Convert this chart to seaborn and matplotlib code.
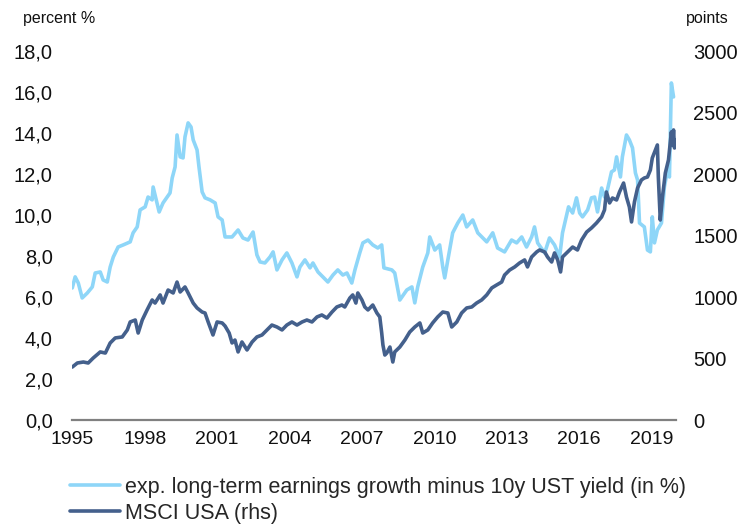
import matplotlib
matplotlib.use("Agg")
import matplotlib.pyplot as plt
import matplotlib.ticker as mticker
from matplotlib.lines import Line2D
import pandas as pd
import seaborn as sns

# Expected long-term earnings growth minus 10y UST yield, percent (left axis)
spread_years = [
    1995.00, 1995.12, 1995.25, 1995.41, 1995.62, 1995.83, 1995.95, 1996.16, 1996.28, 1996.45,
    1996.57, 1996.70, 1996.90, 1997.11, 1997.40, 1997.52, 1997.69, 1997.81, 1998.02, 1998.14,
    1998.31, 1998.35, 1998.48, 1998.60, 1998.76, 1998.93, 1999.05, 1999.14, 1999.26, 1999.34,
    1999.47, 1999.59, 1999.67, 1999.80, 1999.92, 2000.01, 2000.17, 2000.25, 2000.38, 2000.50,
    2000.71, 2000.92, 2001.04, 2001.21, 2001.33, 2001.62, 2001.87, 2002.07, 2002.28, 2002.49,
    2002.65, 2002.78, 2002.98, 2003.19, 2003.32, 2003.48, 2003.69, 2003.89, 2004.10, 2004.31,
    2004.43, 2004.64, 2004.85, 2004.97, 2005.18, 2005.38, 2005.59, 2005.80, 2006.00, 2006.21,
    2006.38, 2006.58, 2006.71, 2006.91, 2007.04, 2007.25, 2007.45, 2007.66, 2007.82, 2007.91,
    2008.24, 2008.36, 2008.57, 2008.86, 2009.07, 2009.19, 2009.31, 2009.52, 2009.73, 2009.81,
    2010.02, 2010.22, 2010.35, 2010.43, 2010.56, 2010.76, 2010.97, 2011.18, 2011.34, 2011.59,
    2011.80, 2012.17, 2012.42, 2012.62, 2012.91, 2013.20, 2013.41, 2013.62, 2013.82, 2014.03,
    2014.15, 2014.28, 2014.57, 2014.77, 2014.98, 2015.19, 2015.31, 2015.56, 2015.73, 2015.89,
    2016.02, 2016.14, 2016.35, 2016.51, 2016.64, 2016.76, 2016.93, 2017.05, 2017.17, 2017.34,
    2017.46, 2017.55, 2017.71, 2017.79, 2017.96, 2018.08, 2018.21, 2018.33, 2018.42, 2018.50,
    2018.70, 2018.83, 2018.95, 2019.03, 2019.12, 2019.24, 2019.41, 2019.53, 2019.66, 2019.74,
    2019.82, 2019.91,
]
spread_values = [
    6.45, 6.99, 6.69, 5.96, 6.20, 6.50, 7.18, 7.23, 6.84, 6.74,
    7.47, 7.96, 8.45, 8.55, 8.70, 9.14, 9.43, 10.26, 10.41, 10.89,
    10.75, 11.38, 10.75, 10.16, 10.60, 10.89, 11.09, 11.82, 12.36, 13.92,
    12.85, 12.80, 13.83, 14.51, 14.31, 13.68, 13.19, 12.36, 11.14, 10.85,
    10.75, 10.60, 9.92, 9.77, 8.94, 8.94, 9.28, 8.89, 8.79, 9.18,
    8.06, 7.72, 7.67, 7.96, 8.21, 7.33, 7.82, 8.16, 7.67, 6.99,
    7.47, 7.82, 7.43, 7.67, 7.23, 6.99, 6.74, 7.08, 7.33, 7.08,
    7.18, 6.69, 7.33, 8.16, 8.65, 8.79, 8.55, 8.40, 8.55, 7.43,
    7.33, 7.18, 5.86, 6.35, 6.50, 5.72, 6.50, 7.47, 8.16, 8.94,
    8.30, 8.55, 7.47, 6.94, 7.82, 9.14, 9.62, 10.01, 9.43, 9.77,
    9.14, 8.70, 9.14, 8.40, 8.21, 8.79, 8.65, 8.94, 8.45, 8.94,
    9.43, 8.65, 8.16, 8.89, 8.55, 7.96, 9.14, 10.41, 10.11, 10.85,
    10.11, 9.92, 10.26, 10.85, 10.89, 10.16, 11.33, 10.89, 11.24, 12.12,
    12.21, 12.85, 11.87, 12.85, 13.92, 13.68, 13.29, 12.07, 11.72, 9.62,
    9.43, 8.30, 8.21, 9.92, 8.65, 9.28, 9.62, 11.38, 12.21, 11.87,
    16.46, 15.78,
]

# MSCI USA index level, points (right axis)
msci_years = [
    1995.00, 1995.21, 1995.46, 1995.66, 1995.87, 1996.16, 1996.37, 1996.57, 1996.78, 1997.07,
    1997.28, 1997.40, 1997.61, 1997.73, 1997.90, 1998.10, 1998.31, 1998.43, 1998.64, 1998.76,
    1998.97, 1999.18, 1999.34, 1999.47, 1999.67, 1999.80, 2000.01, 2000.17, 2000.38, 2000.50,
    2000.63, 2000.83, 2001.00, 2001.21, 2001.33, 2001.50, 2001.62, 2001.74, 2001.87, 2002.03,
    2002.24, 2002.45, 2002.65, 2002.86, 2003.07, 2003.27, 2003.48, 2003.69, 2003.89, 2004.10,
    2004.31, 2004.52, 2004.72, 2004.93, 2005.14, 2005.34, 2005.55, 2005.76, 2005.96, 2006.17,
    2006.29, 2006.50, 2006.62, 2006.75, 2006.83, 2007.00, 2007.12, 2007.25, 2007.45, 2007.62,
    2007.74, 2007.82, 2007.87, 2007.95, 2008.03, 2008.16, 2008.28, 2008.36, 2008.57, 2008.78,
    2008.98, 2009.19, 2009.40, 2009.52, 2009.73, 2009.93, 2010.14, 2010.35, 2010.56, 2010.72,
    2010.93, 2011.13, 2011.34, 2011.55, 2011.75, 2011.96, 2012.17, 2012.38, 2012.58, 2012.79,
    2012.91, 2013.12, 2013.33, 2013.53, 2013.74, 2013.86, 2014.03, 2014.24, 2014.36, 2014.57,
    2014.69, 2014.86, 2014.98, 2015.11, 2015.23, 2015.31, 2015.52, 2015.73, 2015.93, 2016.10,
    2016.31, 2016.51, 2016.72, 2016.93, 2017.05, 2017.13, 2017.26, 2017.38, 2017.55, 2017.67,
    2017.84, 2017.96, 2018.08, 2018.17, 2018.29, 2018.42, 2018.58, 2018.70, 2018.83, 2018.95,
    2019.03, 2019.16, 2019.24, 2019.28, 2019.36, 2019.45, 2019.57, 2019.70, 2019.82, 2019.87,
    2019.91, 2019.95, 2019.99,
]
msci_values = [
    431, 464, 472, 464, 505, 554, 545, 627, 668, 676,
    733, 798, 814, 708, 814, 896, 977, 952, 1018, 952,
    1058, 1034, 1123, 1042, 1083, 1034, 952, 912, 879, 871,
    798, 692, 798, 790, 765, 708, 627, 651, 554, 635,
    570, 635, 676, 692, 733, 773, 757, 733, 773, 798,
    773, 798, 814, 798, 839, 855, 830, 879, 920, 936,
    920, 993, 1018, 952, 1034, 977, 920, 896, 936, 871,
    839, 708, 611, 529, 545, 594, 472, 554, 594, 651,
    716, 757, 790, 708, 733, 790, 839, 879, 871, 757,
    798, 871, 912, 920, 952, 977, 1018, 1075, 1099, 1123,
    1180, 1221, 1246, 1278, 1303, 1246, 1327, 1368, 1384, 1368,
    1327, 1286, 1360, 1303, 1205, 1327, 1368, 1408, 1384, 1465,
    1530, 1563, 1604, 1653, 1710, 1856, 1767, 1807, 1791, 1856,
    1929, 1815, 1734, 1612, 1775, 1889, 1954, 1970, 1978, 2035,
    2133, 2198, 2239, 1978, 1628, 1815, 2011, 2117, 2345, 2239,
    2361, 2214, 2279,
]

year_ticks = [1995, 1998, 2001, 2004, 2007, 2010, 2013, 2016, 2019]
spread_label = "exp. long-term earnings growth minus 10y UST yield (in %)"
msci_label = "MSCI USA (rhs)"

LIGHT = "#8ed6f8"
DARK = "#44608c"
LW = 2.6

sns.set_theme(style="white")
plt.rcParams["font.family"] = ["Liberation Sans", "DejaVu Sans"]

spread_df = pd.DataFrame({"year": spread_years, "value": spread_values})
msci_df = pd.DataFrame({"year": msci_years, "value": msci_values})

fig = plt.figure(figsize=(7.45, 5.25), dpi=100)
ax = fig.add_axes([0.097, 0.2, 0.81, 0.702])
ax2 = ax.twinx()

sns.lineplot(data=spread_df, x="year", y="value", ax=ax, color=LIGHT,
             linewidth=LW, legend=False)
sns.lineplot(data=msci_df, x="year", y="value", ax=ax2, color=DARK,
             linewidth=LW, legend=False)
ax2.set_zorder(ax.get_zorder() + 1)
ax.patch.set_visible(False)

ax.set_xlim(1995, 2020)
ax.set_ylim(0, 18)
ax2.set_ylim(0, 3000)
ax.set_xticks(year_ticks)
ax.set_xticklabels([str(y) for y in year_ticks])
ax.set_yticks(range(0, 19, 2))
ax.yaxis.set_major_formatter(
    mticker.FuncFormatter(lambda v, _: f"{v:.1f}".replace(".", ",")))
ax2.set_yticks(range(0, 3001, 500))

for a in (ax, ax2):
    a.set_xlabel("")
    a.set_ylabel("")
    a.grid(False)
    for side in ("left", "right", "top", "bottom"):
        a.spines[side].set_visible(False)

ax.spines["bottom"].set_visible(True)
ax.spines["bottom"].set_color("#808080")
ax.spines["bottom"].set_linewidth(1.6)

ax.tick_params(axis="y", length=0, pad=14, labelsize=14.5, labelcolor="#111111")
ax.tick_params(axis="x", length=0, pad=8, labelsize=14, labelcolor="#111111")
ax2.tick_params(axis="y", length=0, pad=12.5, labelsize=14.5, labelcolor="#111111")

fig.text(23 / 745, 1 - 18 / 525, "percent %", fontsize=11.5, color="#111111",
         ha="left", va="center")
fig.text(686 / 745, 1 - 18 / 525, "points", fontsize=11.5, color="#111111",
         ha="left", va="center")

handles = [Line2D([], [], color=LIGHT, linewidth=LW),
           Line2D([], [], color=DARK, linewidth=LW)]
fig.legend(handles, [spread_label, msci_label], loc="upper left",
           bbox_to_anchor=(70 / 745, 1 - 477 / 525), frameon=False,
           fontsize=15.5, handlelength=2.3, handletextpad=0.25,
           labelspacing=0.22, borderpad=0, borderaxespad=0)

fig.savefig("out.png", dpi=100)
